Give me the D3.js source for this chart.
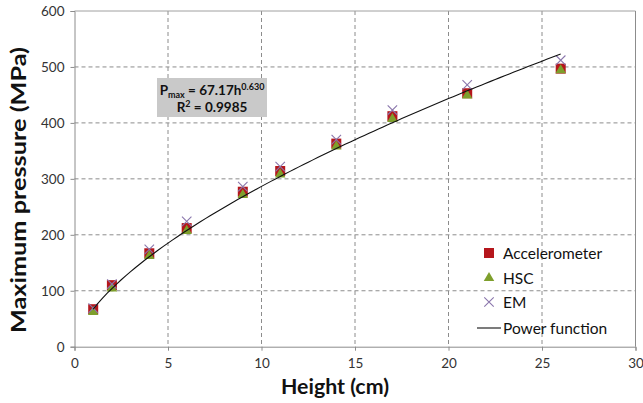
<!DOCTYPE html>
<html>
<head>
<meta charset="utf-8">
<script src="https://cdn.jsdelivr.net/npm/d3@7"></script>
<style>
  html, body { margin: 0; padding: 0; background: #fff; }
  svg { display: block; font-family: Lato, "Open Sans", "DejaVu Sans", sans-serif; }
</style>
</head>
<body>
<svg id="chart" width="643" height="403"></svg>
<script>
// Drop heights (cm)
const heights = [1, 2, 4, 6, 9, 11, 14, 17, 21, 26];
// Maximum pressure (MPa) per measurement method
const accelerometer = [67, 110, 167, 212, 277, 314, 363, 412, 453, 497];
const hsc = [62, 104, 162, 207, 271, 308, 358, 407, 449, 494];
const em = [69, 112, 174, 224, 286, 322, 370, 423, 468, 512];
// Power-law fit Pmax = a * h^b
const fitA = 67.17;
const fitB = 0.630;
const fitR2 = 0.9985;
const xTicks = [0, 5, 10, 15, 20, 25, 30];
const yTicks = [0, 100, 200, 300, 400, 500, 600];

const svg = d3.select("#chart");
const m = { left: 74.5, right: 635.5, top: 11, bottom: 346.7 };

const x = d3.scaleLinear().domain([0, 30]).range([m.left, m.right]);
const y = d3.scaleLinear().domain([0, 600]).range([m.bottom, m.top]);

const gridColor = "#8c8c8c";

// Dashed gridlines
svg.append("g").selectAll("line.vg")
  .data(xTicks.filter(d => d > 0 && d < 30))
  .join("line")
  .attr("x1", d => x(d)).attr("x2", d => x(d))
  .attr("y1", m.top).attr("y2", m.bottom)
  .attr("stroke", gridColor).attr("stroke-width", 1)
  .attr("stroke-dasharray", "4,3");

svg.append("g").selectAll("line.hg")
  .data(yTicks.filter(d => d > 0 && d < 600))
  .join("line")
  .attr("x1", m.left).attr("x2", m.right)
  .attr("y1", d => y(d)).attr("y2", d => y(d))
  .attr("stroke", gridColor).attr("stroke-width", 1)
  .attr("stroke-dasharray", "4,3");

// Frame: top and right borders
svg.append("line").attr("x1", m.left).attr("x2", m.right)
  .attr("y1", m.top).attr("y2", m.top).attr("stroke", "#a0a0a0");
svg.append("line").attr("x1", m.right).attr("x2", m.right)
  .attr("y1", m.top).attr("y2", m.bottom).attr("stroke", "#8c8c8c");

// Axes
const xAxis = svg.append("g")
  .attr("transform", `translate(0,${m.bottom})`)
  .call(d3.axisBottom(x).tickValues(xTicks).tickSize(4).tickPadding(8));
const yAxis = svg.append("g")
  .attr("transform", `translate(${m.left},0)`)
  .call(d3.axisLeft(y).tickValues(yTicks).tickSize(4).tickPadding(6));

[xAxis, yAxis].forEach(g => {
  g.select(".domain").attr("stroke", "#8c8c8c");
  g.selectAll(".tick line").attr("stroke", "#8c8c8c");
  g.selectAll(".tick text")
    .attr("fill", "#333")
    .style("font-size", "13.5px")
    .style("font-family", "Lato, 'Open Sans', sans-serif");
});

// Axis titles
svg.append("text")
  .attr("x", 335).attr("y", 394)
  .attr("text-anchor", "middle")
  .attr("textLength", 108).attr("lengthAdjust", "spacingAndGlyphs")
  .style("font-size", "21px").style("font-weight", "bold").attr("fill", "#111")
  .text("Height (cm)");

svg.append("text")
  .attr("transform", `translate(26,190) rotate(-90)`)
  .attr("text-anchor", "middle")
  .attr("textLength", 286).attr("lengthAdjust", "spacingAndGlyphs")
  .style("font-size", "21px").style("font-weight", "bold").attr("fill", "#111")
  .text("Maximum  pressure (MPa)");

// Series markers
const pts = arr => heights.map((h, i) => ({ h, v: arr[i] }));

svg.append("g").selectAll("rect").data(pts(accelerometer)).join("rect")
  .attr("x", d => x(d.h) - 5).attr("y", d => y(d.v) - 5)
  .attr("width", 10).attr("height", 10)
  .attr("fill", "#b5161c");

const tri = d3.symbol().type(d3.symbolTriangle).size(48);
svg.append("g").selectAll("path").data(pts(hsc)).join("path")
  .attr("transform", d => `translate(${x(d.h)},${y(d.v)})`)
  .attr("d", tri)
  .attr("fill", "#7e9f2c");

const cross = d3.symbol().type(d3.symbolX).size(60);
svg.append("g").selectAll("path").data(pts(em)).join("path")
  .attr("transform", d => `translate(${x(d.h)},${y(d.v)})`)
  .attr("d", cross)
  .attr("fill", "none")
  .attr("stroke", "#8a76ac").attr("stroke-width", 1.1);

// Fitted power curve
const hs = d3.range(1, 26.001, 0.25);
const line = d3.line().x(d => x(d)).y(d => y(fitA * Math.pow(d, fitB)));
svg.append("path").datum(hs)
  .attr("d", line)
  .attr("fill", "none").attr("stroke", "#111").attr("stroke-width", 1.1);

// Equation box
const box = svg.append("g");
box.append("rect")
  .attr("x", 157).attr("y", 78).attr("width", 110).attr("height", 39)
  .attr("fill", "#c9c9c9");
const eq = box.append("text")
  .attr("x", 212).attr("y", 95).attr("text-anchor", "middle")
  .style("font-size", "13.5px").style("font-weight", "bold").attr("fill", "#111");
eq.append("tspan").text("P");
eq.append("tspan").attr("dy", 3).style("font-size", "9px").text("max");
eq.append("tspan").attr("dy", -3).text(` = ${fitA}h`);
eq.append("tspan").attr("dy", -5).style("font-size", "9px").text(fitB.toFixed(3));
const r2 = box.append("text")
  .attr("x", 212).attr("y", 112).attr("text-anchor", "middle")
  .style("font-size", "13.5px").style("font-weight", "bold").attr("fill", "#111");
r2.append("tspan").text("R");
r2.append("tspan").attr("dy", -5).style("font-size", "9px").text("2");
r2.append("tspan").attr("dy", 5).text(` = ${fitR2}`);

// Legend
const legend = svg.append("g");
const lx = 489, ly = [253, 278, 302, 328];
const labels = ["Accelerometer", "HSC", "EM", "Power function"];
legend.append("rect").attr("x", lx - 5).attr("y", ly[0] - 5)
  .attr("width", 10).attr("height", 10).attr("fill", "#b5161c");
legend.append("path").attr("transform", `translate(${lx},${ly[1]})`)
  .attr("d", tri).attr("fill", "#7e9f2c");
legend.append("path").attr("transform", `translate(${lx},${ly[2]})`)
  .attr("d", cross)
  .attr("fill", "none").attr("stroke", "#8a76ac").attr("stroke-width", 1.1);
legend.append("line").attr("x1", 477).attr("x2", 501)
  .attr("y1", ly[3]).attr("y2", ly[3]).attr("stroke", "#111").attr("stroke-width", 1.1);
legend.selectAll("text").data(labels).join("text")
  .attr("x", 503).attr("y", (d, i) => ly[i] + 5.5)
  .style("font-size", "15.5px").attr("fill", "#111")
  .text(d => d);
</script>
</body>
</html>
